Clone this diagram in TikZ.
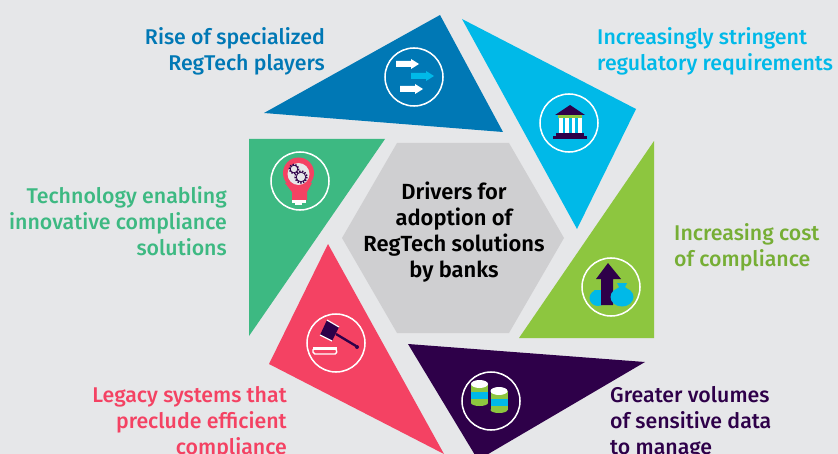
\documentclass[tikz,border=0pt]{standalone}
\usepackage{fontspec}
\setmainfont{Fira Sans}[UprightFont={* Medium},BoldFont={* SemiBold}]
\usepackage{tikz}
\usetikzlibrary{positioning}
\definecolor{cBg}{HTML}{E6E7E9}
\definecolor{cHex}{HTML}{CFCFD1}
\definecolor{cBlue}{HTML}{0078B5}
\definecolor{cCyan}{HTML}{00B9E8}
\definecolor{cLime}{HTML}{8DC63F}
\definecolor{cLimeT}{HTML}{76AE35}
\definecolor{cPurple}{HTML}{2E0049}
\definecolor{cPink}{HTML}{F44263}
\definecolor{cTeal}{HTML}{3DB982}
\begin{document}
\begin{tikzpicture}
	[
		x=0.03cm, y=-0.03cm,
		L/.style = {rectangle, align=left, anchor=west, inner sep=0pt, font=\fontsize{18.2}{22}\selectfont\mdseries},
		R/.style = {rectangle, align=right, anchor=east, inner sep=0pt, font=\fontsize{18.2}{22}\selectfont\mdseries},
		C/.style = {rectangle, align=center, inner sep=0pt, font=\fontsize{18.7}{22}\selectfont\bfseries, text=black},
		ring/.style = {circle, draw=white, line width=1.3pt, minimum size=1.74cm, inner sep=0pt},
	]

	\clip (0,0) rectangle (838,454);
	\fill[cBg] (0,0) rectangle (838,454);

	% centre and triangles
	\fill[cHex] (342,238) -- (397,143) -- (509,143) -- (564,238) -- (509,333) -- (397,333) -- cycle;
	\fill[cBlue] (440,15) -- (503,132) -- (264,113) -- cycle;
	\fill[cCyan] (462,19) -- (636,109) -- (577,229) -- cycle;
	\fill[cLime] (654,141) -- (654,338) -- (519,338) -- cycle;
	\fill[cPurple] (408,344) -- (645,362) -- (478,460) -- cycle;
	\fill[cPink] (328,244) -- (444,454) -- (269,364) -- cycle;
	\fill[cTeal] (249,139) -- (385,139) -- (249,336) -- cycle;

	% labels
	\node[C] (centre) at (454,232) {Drivers for\\adoption of\\RegTech solutions\\by banks};
	\node[R, text=cBlue] (players) at (325,51) {Rise of specialized\\RegTech players};
	\node[L, text=cCyan] (stringent) at (597,51) {Increasingly stringent\\regulatory requirements};
	\node[L, text=cLimeT] (cost) at (674,247) {Increasing cost\\of compliance};
	\node[L, text=cPurple] (data) at (610,423) {Greater volumes\\of sensitive data\\to manage};
	\node[R, text=cPink] (legacy) at (287,423) {Legacy systems that\\preclude efficient\\compliance};
	\node[R, text=cTeal] (tech) at (227,221) {Technology enabling\\innovative compliance\\solutions};

	% rings
	\node[ring] (r1) at (414,77) {};
	\node[ring] (r2) at (569,123) {};
	\node[ring] (r3) at (611,287) {};
	\node[ring] (r4) at (491,401) {};
	\node[ring] (r5) at (336,343) {};
	\node[ring] (r6) at (300,181) {};

	% arrows icon
	\foreach \ax/\ay/\ac in {396/64/white,411/76/cCyan,400/89/white}
	\fill[\ac] (\ax,\ay-3) -- (\ax+15,\ay-3) -- (\ax+15,\ay-5) -- (\ax+23,\ay) -- (\ax+15,\ay+5) -- (\ax+15,\ay+3) -- (\ax,\ay+3) -- cycle;

	% bank icon
	\fill[cPurple] (570,105) -- (585,115) -- (555,115) -- cycle;
	\fill[cLime] (558,115) rectangle (582,118);
	\foreach \bx in {559,565,571.5,578}
	\fill[white] (\bx,118) rectangle (\bx+3.5,133);
	\fill[cPurple] (556,133) rectangle (584,136);
	\fill[cPurple] (553,136) rectangle (587,139);

	% cost icon
	\fill[cCyan] (598,298) ellipse [x radius=8.5, y radius=8];
	\fill[cCyan] (594,290) -- (602,290) -- (601,293) -- (604,295) -- (592,295) -- (595,293) -- cycle;
	\fill[cPurple] (608,263) -- (621,279) -- (613,279) -- (613,305) -- (601,305) -- (601,279) -- (596,279) -- cycle;
	\fill[cCyan] (622,297) ellipse [x radius=11.5, y radius=9.5];
	\fill[cCyan] (617,283) -- (627,283) -- (625,287) -- (631,293) -- (613,293) -- (619,287) -- cycle;

	% data icon
	\foreach \dx/\dy in {479.5/384,499/391}
	{
		\fill[cLime] (\dx-8.5,\dy) rectangle (\dx+8.5,\dy+19);
		\fill[cLime] (\dx,\dy+19) ellipse [x radius=8.5, y radius=3];
		\fill[cCyan] (\dx-8.5,\dy+8) rectangle (\dx+8.5,\dy+15);
		\fill[white] (\dx,\dy) ellipse [x radius=8.5, y radius=4];
	}

	% gavel icon
	\draw[cPurple, line width=2pt] (336,334) -- (356,346);
	\fill[cPurple] (357,347) circle (2);
	\fill[cPurple] (327,320) -- (339,327) -- (332,341) -- (320,335) -- cycle;
	\draw[white, line width=1pt] (327,320) -- (339,327);
	\draw[white, line width=1pt] (320,335) -- (332,341);
	\draw[white, line width=1.2pt, rounded corners=1.5pt, fill=cPink] (313,348) -- (336,348) -- (337,354) -- (313,354) -- cycle;
	\fill[white] (313,347) rectangle (337,350);

	% bulb icon
	\fill[cPink] (298.5,173) circle (15.5);
	\fill[cPink] (285,183) -- (312,183) -- (307,192) -- (307,200) -- (292,200) -- (292,192) -- cycle;
	\fill[cBg] (298.5,174) circle (11);
	\fill[white] (292,200) rectangle (306,203);
	\fill[white] (295,203) rectangle (302,205);
	\draw[cPurple, line width=0.7pt] (294,169) circle (3.8);
	\draw[cPurple, line width=1.4pt, dash pattern=on 1.2pt off 1.2pt] (294,169) circle (4.6);
	\draw[cPurple, line width=0.7pt] (301,177) circle (4.8);
	\draw[cPurple, line width=1.4pt, dash pattern=on 1.2pt off 1.2pt] (301,177) circle (5.8);

\end{tikzpicture}
\end{document}
